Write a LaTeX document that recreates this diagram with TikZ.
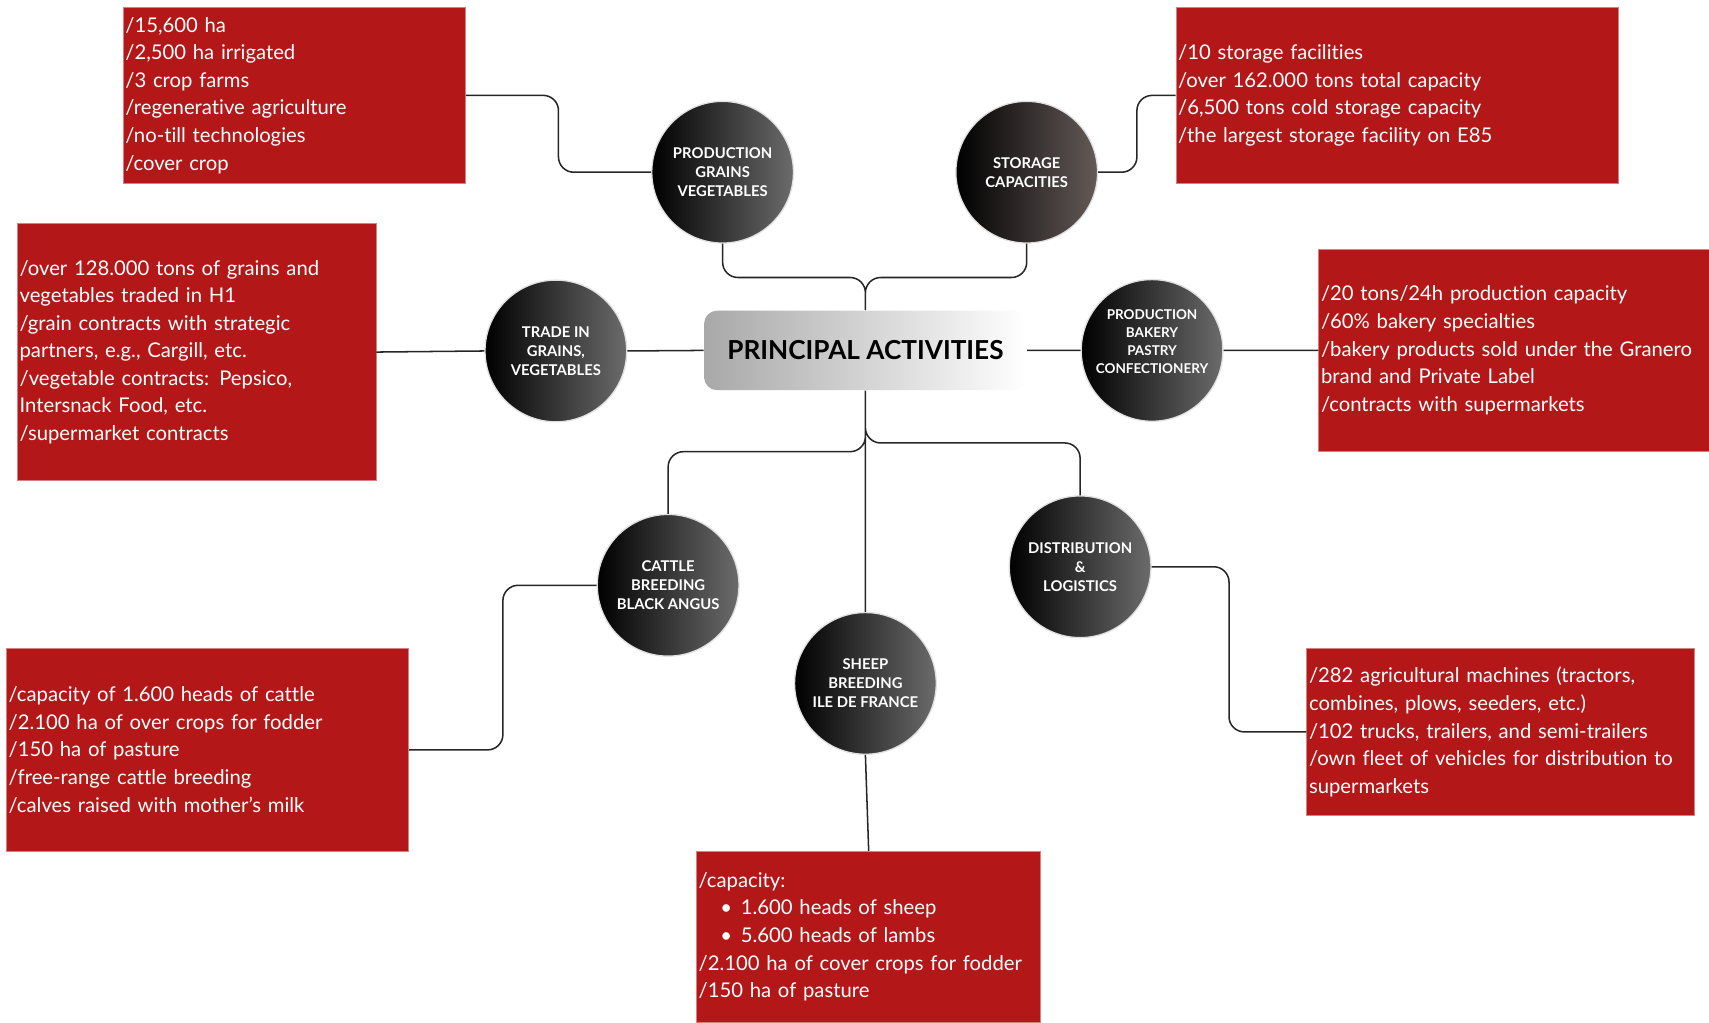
\documentclass[tikz,border=0pt]{standalone}
\usepackage{fontspec}
\setmainfont[Ligatures=NoCommon]{Lato}
\usetikzlibrary{positioning,calc}
\definecolor{boxred}{RGB}{179,23,23}
\definecolor{stonegray}{RGB}{100,90,88}

\begin{document}
\begin{tikzpicture}[x=0.5pt,y=-0.5pt,
    act/.style={circle,minimum size=65pt,inner sep=0pt,align=center,text=white,
      font=\fontsize{6.8}{8.75}\selectfont\bfseries,left color=black,right color=black!58,
      draw=black!12,line width=0.6pt},
    info/.style={rectangle,fill=boxred,draw=boxred!55!white,line width=0.4pt,text=white,
      align=left,inner xsep=1pt,inner ysep=0pt,font=\fontsize{9.3}{12.65}\selectfont},
    link/.style={draw=black!85,line width=0.7pt,rounded corners=7pt}]
   \useasboundingbox (0,0) rectangle (1568,938);

   % centre
   \node[rectangle,rounded corners=6pt,minimum width=148pt,minimum height=36.5pt,
     left color=black!34,right color=white,font=\fontsize{12}{14}\selectfont\bfseries]
     (hub) at (794,321.5) {PRINCIPAL ACTIVITIES};

   % activities
   \node[act] (act_1) at (663,158) {PRODUCTION\\GRAINS\\VEGETABLES};
   \node[act,right color=stonegray] (act_2) at (942,158) {STORAGE\\CAPACITIES};
   \node[act] (act_3) at (510,322) {TRADE IN\\GRAINS,\\VEGETABLES};
   \node[act,font=\fontsize{6.2}{8.2}\selectfont\bfseries] (act_4) at (1057,321.5)
     {PRODUCTION\\BAKERY\\PASTRY\\CONFECTIONERY\\\mbox{}};
   \node[act] (act_5) at (613,537) {CATTLE\\BREEDING\\BLACK ANGUS};
   \node[act] (act_6) at (991,520) {DISTRIBUTION\\\&\\LOGISTICS};
   \node[act] (act_7) at (794,627) {SHEEP\\BREEDING\\ILE DE FRANCE};

   % facts
   \node[info,text width=155pt,minimum height=80.5pt] (info_1) at (270,87.5)
     {/15,600 ha\\/2,500 ha irrigated\\/3 crop farms\\/regenerative agriculture\\
      /no-till technologies\\/cover crop};
   \node[info,text width=201pt,minimum height=80.5pt] (info_2) at (1282,87.5)
     {/10 storage facilities\\/over 162.000 tons total capacity\\
      /6,500 tons cold storage capacity\\/the largest storage facility on E85};
   \node[info,text width=162.5pt,minimum height=118pt] (info_3) at (180.5,323)
     {/over 128.000 tons of grains and\\vegetables traded in H1\\
      /grain contracts with strategic\\partners, e.g., Cargill, etc.\\
      /vegetable contracts: Pepsico,\\Intersnack Food, etc.\\/supermarket contracts};
   \node[info,text width=177pt,minimum height=92.5pt] (info_4) at (1389,321.5)
     {/20 tons/24h production capacity\\/60\% bakery specialties\\
      /bakery products sold under the Granero\\brand and Private Label\\
      /contracts with supermarkets};
   \node[info,text width=182.5pt,minimum height=93pt] (info_5) at (190.5,688)
     {/capacity of 1.600 heads of cattle\\/2.100 ha of over crops for fodder\\
      /150 ha of pasture\\/free-range cattle breeding\\/calves raised with mother’s milk};
   \node[info,text width=176pt,minimum height=76.5pt] (info_6) at (1377,671.5)
     {/282 agricultural machines (tractors,\\combines, plows, seeders, etc.)\\
      /102 trucks, trailers, and semi-trailers\\/own fleet of vehicles for distribution to\\
      supermarkets};
   \node[info,text width=156pt,minimum height=78.5pt] (info_7) at (797,859.5)
     {/capacity:\\\hspace*{10pt}•\hspace{4pt}1.600 heads of sheep\\
      \hspace*{10pt}•\hspace{4pt}5.600 heads of lambs\\
      /2.100 ha of cover crops for fodder\\/150 ha of pasture};

   \coordinate (top_j) at ($(hub.north)+(0,-30)$);

   % connectors
   \path[link]
    (info_1.east) -| ($(info_1.east)!0.5!(act_1.west)$) |- (act_1.west)
    (act_2.east) -| ($(act_2.east)!0.5!(info_2.west)$) |- (info_2.west)
    (act_1.south) |- (top_j) -- (hub.north)
    (act_2.south) |- (top_j) -- (hub.north)
    (info_3.east) -- (act_3.west)
    (act_3.east) -- (hub.west)
    (hub.east) -- (act_4.west)
    (act_4.east) -- (info_4.west)
    (hub.south) |- ($(act_5.north)+(0,-57)$) -- (act_5.north)
    (hub.south) |- ($(act_6.north)+(0,-48)$) -- (act_6.north)
    (hub.south) -- (act_7.north)
    (act_7.south) -- (info_7.north)
    (act_5.west) -| ($(act_5.west)!0.5!(info_5.east)$) |- (info_5.east)
    (act_6.east) -| ($(act_6.east)!0.5!(info_6.west)$) |- (info_6.west);
\end{tikzpicture}
\end{document}
